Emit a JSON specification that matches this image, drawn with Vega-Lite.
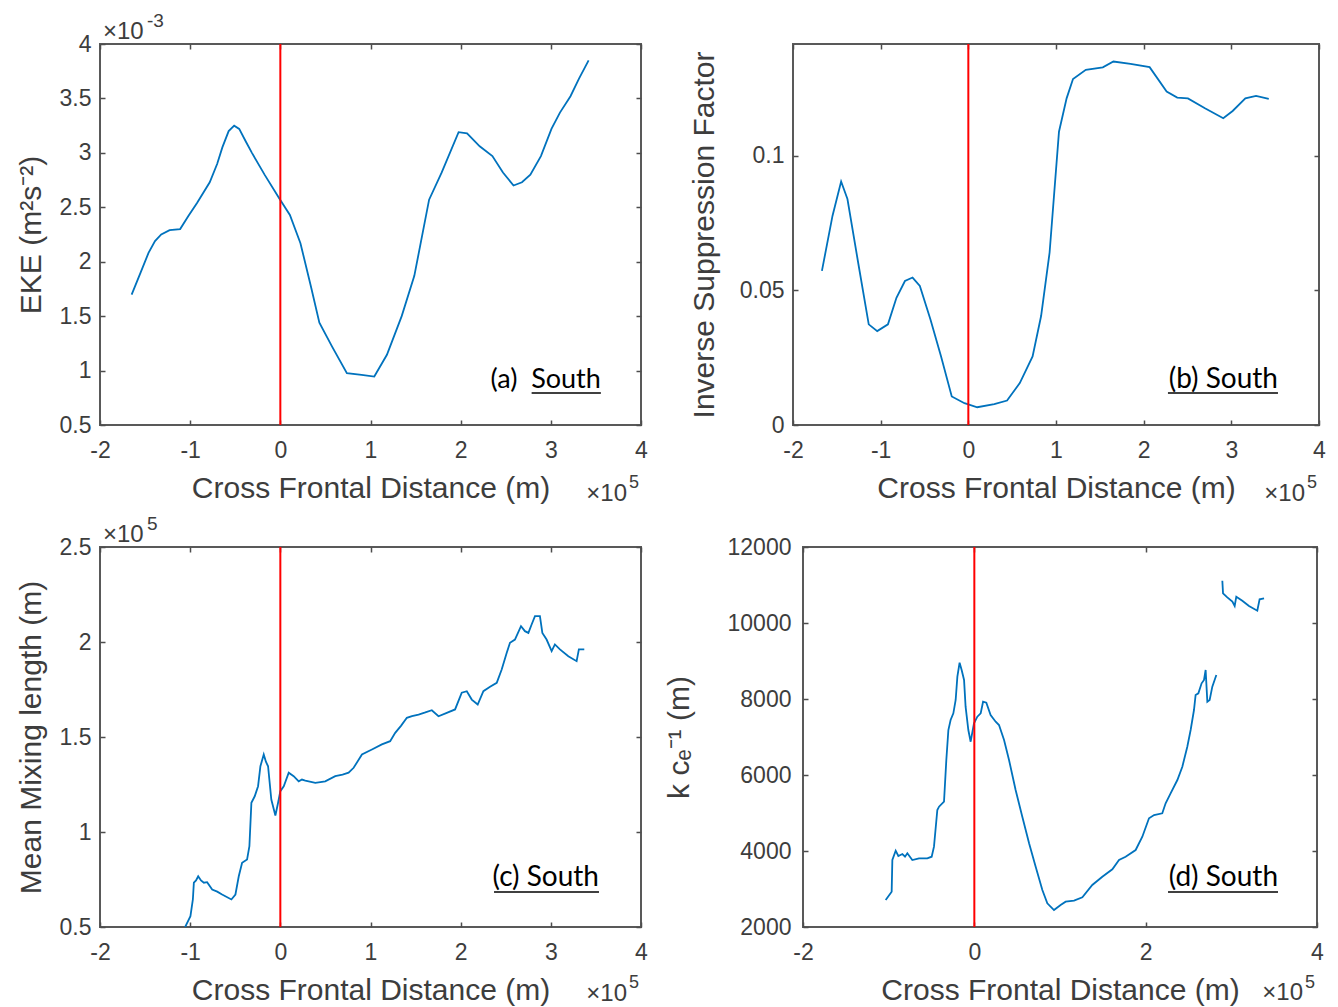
{
  "$schema": "https://vega.github.io/schema/vega-lite/v6.json",
  "background": "white",
  "padding": {"left": 15, "top": 11, "right": 5, "bottom": 0},
  "spacing": 7,
  "config": {
    "font": "Liberation Sans",
    "view": {"stroke": "#595959", "strokeWidth": 2},
    "axis": {
      "domain": false, "grid": false, "ticks": true, "tickSize": -5, "tickColor": "#4d4d4d", "tickWidth": 1.5,
      "labelFont": "Liberation Sans", "labelFontSize": 23, "labelColor": "#3d3d3d",
      "labelFlush": false, "labelOverlap": false, "labelExpr": "'' + datum.value",
      "titleFont": "Liberation Sans", "titleFontSize": 30, "titleFontWeight": "normal", "titleColor": "#3d3d3d"
    },
    "axisBottom": {"titlePadding": 11, "labelPadding": 19},
    "axisLeft": {"titlePadding": 13, "labelPadding": 14},
    "text": {"font": "Liberation Sans", "color": "#3d3d3d"}
  },
  "datasets": {
    "eke": [
      {"x": -1.649, "y": 1.697}, {"x": -1.55, "y": 1.9}, {"x": -1.462, "y": 2.081}, {"x": -1.39, "y": 2.19},
      {"x": -1.321, "y": 2.25}, {"x": -1.228, "y": 2.29}, {"x": -1.111, "y": 2.3}, {"x": -1.02, "y": 2.42},
      {"x": -0.924, "y": 2.54}, {"x": -0.783, "y": 2.73}, {"x": -0.7, "y": 2.9}, {"x": -0.643, "y": 3.05},
      {"x": -0.573, "y": 3.2}, {"x": -0.512, "y": 3.25}, {"x": -0.456, "y": 3.22}, {"x": -0.38, "y": 3.1},
      {"x": -0.315, "y": 3.0}, {"x": -0.175, "y": 2.8}, {"x": -0.011, "y": 2.58}, {"x": 0.106, "y": 2.43},
      {"x": 0.223, "y": 2.17}, {"x": 0.34, "y": 1.77}, {"x": 0.433, "y": 1.44}, {"x": 0.574, "y": 1.22},
      {"x": 0.738, "y": 0.976}, {"x": 0.901, "y": 0.96}, {"x": 1.042, "y": 0.945}, {"x": 1.182, "y": 1.145},
      {"x": 1.346, "y": 1.5}, {"x": 1.486, "y": 1.87}, {"x": 1.65, "y": 2.57}, {"x": 1.79, "y": 2.82},
      {"x": 1.977, "y": 3.19}, {"x": 2.071, "y": 3.18}, {"x": 2.211, "y": 3.06}, {"x": 2.352, "y": 2.97},
      {"x": 2.469, "y": 2.82}, {"x": 2.586, "y": 2.7}, {"x": 2.68, "y": 2.73}, {"x": 2.773, "y": 2.8},
      {"x": 2.89, "y": 2.97}, {"x": 3.007, "y": 3.22}, {"x": 3.101, "y": 3.37}, {"x": 3.218, "y": 3.52},
      {"x": 3.311, "y": 3.68}, {"x": 3.419, "y": 3.85}
    ],
    "isf": [
      {"x": -1.67, "y": 0.0573}, {"x": -1.549, "y": 0.0778}, {"x": -1.451, "y": 0.0905}, {"x": -1.379, "y": 0.084},
      {"x": -1.257, "y": 0.0604}, {"x": -1.136, "y": 0.0374}, {"x": -1.039, "y": 0.0349}, {"x": -0.917, "y": 0.0374},
      {"x": -0.82, "y": 0.0473}, {"x": -0.723, "y": 0.0535}, {"x": -0.636, "y": 0.0548}, {"x": -0.553, "y": 0.0517},
      {"x": -0.432, "y": 0.0392}, {"x": -0.311, "y": 0.0255}, {"x": -0.189, "y": 0.0106}, {"x": -0.044, "y": 0.0081},
      {"x": 0.102, "y": 0.0066}, {"x": 0.296, "y": 0.0078}, {"x": 0.442, "y": 0.0091}, {"x": 0.587, "y": 0.0156},
      {"x": 0.733, "y": 0.0255}, {"x": 0.83, "y": 0.0405}, {"x": 0.927, "y": 0.0641}, {"x": 1.034, "y": 0.109},
      {"x": 1.121, "y": 0.1214}, {"x": 1.194, "y": 0.1286}, {"x": 1.34, "y": 0.132}, {"x": 1.534, "y": 0.1329},
      {"x": 1.655, "y": 0.1351}, {"x": 1.85, "y": 0.1342}, {"x": 2.068, "y": 0.133}, {"x": 2.262, "y": 0.1239},
      {"x": 2.383, "y": 0.1217}, {"x": 2.505, "y": 0.1214}, {"x": 2.699, "y": 0.1177}, {"x": 2.908, "y": 0.114},
      {"x": 3.015, "y": 0.1167}, {"x": 3.16, "y": 0.1214}, {"x": 3.282, "y": 0.1223}, {"x": 3.427, "y": 0.1212}
    ],
    "mix": [
      {"x": -1.07, "y": 0.46}, {"x": -1.052, "y": 0.504}, {"x": -0.997, "y": 0.557}, {"x": -0.97, "y": 0.645},
      {"x": -0.959, "y": 0.733}, {"x": -0.935, "y": 0.745}, {"x": -0.911, "y": 0.767}, {"x": -0.88, "y": 0.745},
      {"x": -0.848, "y": 0.733}, {"x": -0.812, "y": 0.736}, {"x": -0.756, "y": 0.697}, {"x": -0.7, "y": 0.686},
      {"x": -0.646, "y": 0.671}, {"x": -0.543, "y": 0.645}, {"x": -0.498, "y": 0.671}, {"x": -0.461, "y": 0.767},
      {"x": -0.424, "y": 0.838}, {"x": -0.369, "y": 0.855}, {"x": -0.343, "y": 0.925}, {"x": -0.321, "y": 1.154},
      {"x": -0.284, "y": 1.188}, {"x": -0.247, "y": 1.241}, {"x": -0.221, "y": 1.346}, {"x": -0.184, "y": 1.408},
      {"x": -0.16, "y": 1.37}, {"x": -0.136, "y": 1.346}, {"x": -0.1, "y": 1.171}, {"x": -0.055, "y": 1.087},
      {"x": -0.025, "y": 1.154}, {"x": 0.0, "y": 1.215}, {"x": 0.038, "y": 1.241}, {"x": 0.093, "y": 1.312},
      {"x": 0.148, "y": 1.294}, {"x": 0.204, "y": 1.267}, {"x": 0.24, "y": 1.276}, {"x": 0.277, "y": 1.271},
      {"x": 0.388, "y": 1.259}, {"x": 0.498, "y": 1.267}, {"x": 0.609, "y": 1.294}, {"x": 0.69, "y": 1.302},
      {"x": 0.757, "y": 1.312}, {"x": 0.813, "y": 1.338}, {"x": 0.905, "y": 1.408}, {"x": 1.016, "y": 1.434},
      {"x": 1.126, "y": 1.461}, {"x": 1.218, "y": 1.478}, {"x": 1.274, "y": 1.522}, {"x": 1.34, "y": 1.56},
      {"x": 1.403, "y": 1.601}, {"x": 1.46, "y": 1.61}, {"x": 1.533, "y": 1.618}, {"x": 1.6, "y": 1.628},
      {"x": 1.68, "y": 1.641}, {"x": 1.754, "y": 1.609}, {"x": 1.846, "y": 1.627}, {"x": 1.938, "y": 1.645},
      {"x": 2.012, "y": 1.733}, {"x": 2.068, "y": 1.741}, {"x": 2.123, "y": 1.697}, {"x": 2.189, "y": 1.671},
      {"x": 2.252, "y": 1.741}, {"x": 2.326, "y": 1.764}, {"x": 2.4, "y": 1.785}, {"x": 2.455, "y": 1.855},
      {"x": 2.511, "y": 1.943}, {"x": 2.547, "y": 1.996}, {"x": 2.602, "y": 2.013}, {"x": 2.669, "y": 2.083},
      {"x": 2.713, "y": 2.057}, {"x": 2.751, "y": 2.048}, {"x": 2.787, "y": 2.092}, {"x": 2.824, "y": 2.136},
      {"x": 2.879, "y": 2.136}, {"x": 2.906, "y": 2.048}, {"x": 2.953, "y": 2.013}, {"x": 3.009, "y": 1.952},
      {"x": 3.045, "y": 1.987}, {"x": 3.101, "y": 1.961}, {"x": 3.194, "y": 1.925}, {"x": 3.286, "y": 1.899},
      {"x": 3.311, "y": 1.961}, {"x": 3.371, "y": 1.961}
    ],
    "kce": [
      {"seg": 1, "x": -1.035, "y": 2711}, {"seg": 1, "x": -0.965, "y": 2929}, {"seg": 1, "x": -0.957, "y": 3763},
      {"seg": 1, "x": -0.918, "y": 4008}, {"seg": 1, "x": -0.887, "y": 3868}, {"seg": 1, "x": -0.84, "y": 3921},
      {"seg": 1, "x": -0.809, "y": 3850}, {"seg": 1, "x": -0.782, "y": 3939}, {"seg": 1, "x": -0.724, "y": 3763},
      {"seg": 1, "x": -0.646, "y": 3808}, {"seg": 1, "x": -0.549, "y": 3808}, {"seg": 1, "x": -0.498, "y": 3850},
      {"seg": 1, "x": -0.471, "y": 4113}, {"seg": 1, "x": -0.432, "y": 5079}, {"seg": 1, "x": -0.412, "y": 5166},
      {"seg": 1, "x": -0.354, "y": 5297}, {"seg": 1, "x": -0.327, "y": 6395}, {"seg": 1, "x": -0.303, "y": 7184},
      {"seg": 1, "x": -0.277, "y": 7447}, {"seg": 1, "x": -0.245, "y": 7623}, {"seg": 1, "x": -0.218, "y": 7974},
      {"seg": 1, "x": -0.198, "y": 8587}, {"seg": 1, "x": -0.172, "y": 8955}, {"seg": 1, "x": -0.148, "y": 8763},
      {"seg": 1, "x": -0.12, "y": 8500}, {"seg": 1, "x": -0.102, "y": 7797}, {"seg": 1, "x": -0.07, "y": 7184},
      {"seg": 1, "x": -0.043, "y": 6876}, {"seg": 1, "x": -0.004, "y": 7360}, {"seg": 1, "x": 0.035, "y": 7534},
      {"seg": 1, "x": 0.074, "y": 7623}, {"seg": 1, "x": 0.102, "y": 7929}, {"seg": 1, "x": 0.14, "y": 7903},
      {"seg": 1, "x": 0.19, "y": 7579}, {"seg": 1, "x": 0.249, "y": 7403}, {"seg": 1, "x": 0.288, "y": 7316},
      {"seg": 1, "x": 0.347, "y": 6921}, {"seg": 1, "x": 0.405, "y": 6395}, {"seg": 1, "x": 0.482, "y": 5605},
      {"seg": 1, "x": 0.56, "y": 4903}, {"seg": 1, "x": 0.639, "y": 4203}, {"seg": 1, "x": 0.716, "y": 3587},
      {"seg": 1, "x": 0.794, "y": 2974}, {"seg": 1, "x": 0.852, "y": 2624}, {"seg": 1, "x": 0.93, "y": 2447},
      {"seg": 1, "x": 1.007, "y": 2579}, {"seg": 1, "x": 1.066, "y": 2666}, {"seg": 1, "x": 1.164, "y": 2692},
      {"seg": 1, "x": 1.261, "y": 2781}, {"seg": 1, "x": 1.377, "y": 3105}, {"seg": 1, "x": 1.494, "y": 3324},
      {"seg": 1, "x": 1.611, "y": 3518}, {"seg": 1, "x": 1.689, "y": 3763}, {"seg": 1, "x": 1.766, "y": 3850},
      {"seg": 1, "x": 1.883, "y": 4026}, {"seg": 1, "x": 1.961, "y": 4376}, {"seg": 1, "x": 2.039, "y": 4861},
      {"seg": 1, "x": 2.098, "y": 4947}, {"seg": 1, "x": 2.194, "y": 4992}, {"seg": 1, "x": 2.233, "y": 5255},
      {"seg": 1, "x": 2.291, "y": 5518}, {"seg": 1, "x": 2.37, "y": 5868}, {"seg": 1, "x": 2.428, "y": 6218},
      {"seg": 1, "x": 2.486, "y": 6745}, {"seg": 1, "x": 2.525, "y": 7184}, {"seg": 1, "x": 2.564, "y": 7710},
      {"seg": 1, "x": 2.583, "y": 8105}, {"seg": 1, "x": 2.615, "y": 8150}, {"seg": 1, "x": 2.653, "y": 8413},
      {"seg": 1, "x": 2.681, "y": 8500}, {"seg": 1, "x": 2.7, "y": 8763}, {"seg": 1, "x": 2.72, "y": 7929},
      {"seg": 1, "x": 2.747, "y": 7974}, {"seg": 1, "x": 2.778, "y": 8324}, {"seg": 1, "x": 2.825, "y": 8632},
      {"seg": 2, "x": 2.895, "y": 11113}, {"seg": 2, "x": 2.903, "y": 10781}, {"seg": 2, "x": 2.953, "y": 10676},
      {"seg": 2, "x": 3.012, "y": 10561}, {"seg": 2, "x": 3.039, "y": 10447}, {"seg": 2, "x": 3.058, "y": 10692},
      {"seg": 2, "x": 3.128, "y": 10587}, {"seg": 2, "x": 3.206, "y": 10447}, {"seg": 2, "x": 3.303, "y": 10324},
      {"seg": 2, "x": 3.33, "y": 10624}, {"seg": 2, "x": 3.382, "y": 10650}
    ]
  },
  "vconcat": [
    {
      "hconcat": [
        {
          "width": 541, "height": 381,
          "layer": [
            {
              "data": {"name": "eke"},
              "mark": {"type": "line", "color": "#0072BD", "strokeWidth": 1.8, "clip": true},
              "encoding": {
                "x": {"field": "x", "type": "quantitative", "scale": {"domain": [-2, 4], "nice": false, "zero": false},
                      "axis": {"orient": "bottom", "values": [-2, -1, 0, 1, 2, 3, 4], "title": "Cross Frontal Distance (m)"}},
                "y": {"field": "y", "type": "quantitative", "scale": {"domain": [0.5, 4], "nice": false, "zero": false},
                      "axis": {"orient": "left", "values": [0.5, 1, 1.5, 2, 2.5, 3, 3.5, 4], "title": "EKE (m²s⁻²)"}}
              }
            },
            {
              "data": {"values": [{}]},
              "mark": {"type": "rule", "color": "#ff0000", "strokeWidth": 2},
              "encoding": {
                "x": {"datum": 0, "type": "quantitative", "axis": {"orient": "top", "values": [-2, -1, 0, 1, 2, 3, 4], "labels": false, "title": null}},
                "y": {"datum": 0.5, "type": "quantitative", "axis": {"orient": "right", "values": [0.5, 1, 1.5, 2, 2.5, 3, 3.5, 4], "labels": false, "title": null}},
                "y2": {"datum": 4}
              }
            },
            {
              "data": {"values": [{}]},
              "mark": {"type": "text", "align": "right", "baseline": "middle", "font": "Lato", "fontSize": 27, "color": "#000000"},
              "encoding": {
                "x": {"datum": 3.555, "type": "quantitative", "axis": null},
                "y": {"datum": 0.913, "type": "quantitative", "axis": null},
                "text": {"value": "(a)\u00a0\u00a0South"}
              }
            },
            {
              "data": {"values": [{}]},
              "mark": {"type": "rule", "color": "#000000", "strokeWidth": 1.5},
              "encoding": {
                "x": {"datum": 2.787, "type": "quantitative", "axis": null},
                "x2": {"datum": 3.555},
                "y": {"datum": 0.794, "type": "quantitative", "axis": null}
              }
            },
            {
              "data": {"values": [{}]},
              "mark": {"type": "text", "align": "left", "baseline": "alphabetic", "dx": 3, "dy": -5, "fontSize": 24},
              "encoding": {
                "x": {"datum": -2, "type": "quantitative", "axis": null},
                "y": {"datum": 4, "type": "quantitative", "axis": null},
                "text": {"value": "×10"}
              }
            },
            {
              "data": {"values": [{}]},
              "mark": {"type": "text", "align": "left", "baseline": "alphabetic", "dx": 47, "dy": -17, "fontSize": 19},
              "encoding": {
                "x": {"datum": -2, "type": "quantitative", "axis": null},
                "y": {"datum": 4, "type": "quantitative", "axis": null},
                "text": {"value": "-3"}
              }
            },
            {
              "data": {"values": [{}]},
              "mark": {"type": "text", "align": "right", "baseline": "alphabetic", "dx": -14, "dy": 76, "fontSize": 24},
              "encoding": {
                "x": {"datum": 4, "type": "quantitative", "axis": null},
                "y": {"datum": 0.5, "type": "quantitative", "axis": null},
                "text": {"value": "×10"}
              }
            },
            {
              "data": {"values": [{}]},
              "mark": {"type": "text", "align": "right", "baseline": "alphabetic", "dx": -2, "dy": 63, "fontSize": 18},
              "encoding": {
                "x": {"datum": 4, "type": "quantitative", "axis": null},
                "y": {"datum": 0.5, "type": "quantitative", "axis": null},
                "text": {"value": "5"}
              }
            }
          ],
          "resolve": {"axis": {"x": "independent", "y": "independent"}}
        },
        {
          "width": 526, "height": 381,
          "layer": [
            {
              "data": {"name": "isf"},
              "mark": {"type": "line", "color": "#0072BD", "strokeWidth": 1.8, "clip": true},
              "encoding": {
                "x": {"field": "x", "type": "quantitative", "scale": {"domain": [-2, 4], "nice": false, "zero": false},
                      "axis": {"orient": "bottom", "values": [-2, -1, 0, 1, 2, 3, 4], "title": "Cross Frontal Distance (m)"}},
                "y": {"field": "y", "type": "quantitative", "scale": {"domain": [0, 0.1416], "nice": false, "zero": false},
                      "axis": {"orient": "left", "values": [0, 0.05, 0.1], "title": "Inverse Suppression Factor", "titlePadding": 20}}
              }
            },
            {
              "data": {"values": [{}]},
              "mark": {"type": "rule", "color": "#ff0000", "strokeWidth": 2},
              "encoding": {
                "x": {"datum": 0, "type": "quantitative", "axis": {"orient": "top", "values": [-2, -1, 0, 1, 2, 3, 4], "labels": false, "title": null}},
                "y": {"datum": 0, "type": "quantitative", "axis": {"orient": "right", "values": [0, 0.05, 0.1], "labels": false, "title": null}},
                "y2": {"datum": 0.1416}
              }
            },
            {
              "data": {"values": [{}]},
              "mark": {"type": "text", "align": "right", "baseline": "middle", "font": "Lato", "fontSize": 28, "color": "#000000"},
              "encoding": {
                "x": {"datum": 3.532, "type": "quantitative", "axis": null},
                "y": {"datum": 0.0167, "type": "quantitative", "axis": null},
                "text": {"value": "(b) South"}
              }
            },
            {
              "data": {"values": [{}]},
              "mark": {"type": "rule", "color": "#000000", "strokeWidth": 1.5},
              "encoding": {
                "x": {"datum": 2.277, "type": "quantitative", "axis": null},
                "x2": {"datum": 3.532},
                "y": {"datum": 0.0119, "type": "quantitative", "axis": null}
              }
            },
            {
              "data": {"values": [{}]},
              "mark": {"type": "text", "align": "right", "baseline": "alphabetic", "dx": -14, "dy": 76, "fontSize": 24},
              "encoding": {
                "x": {"datum": 4, "type": "quantitative", "axis": null},
                "y": {"datum": 0, "type": "quantitative", "axis": null},
                "text": {"value": "×10"}
              }
            },
            {
              "data": {"values": [{}]},
              "mark": {"type": "text", "align": "right", "baseline": "alphabetic", "dx": -2, "dy": 63, "fontSize": 18},
              "encoding": {
                "x": {"datum": 4, "type": "quantitative", "axis": null},
                "y": {"datum": 0, "type": "quantitative", "axis": null},
                "text": {"value": "5"}
              }
            }
          ],
          "resolve": {"axis": {"x": "independent", "y": "independent"}}
        }
      ],
      "bounds": "flush",
      "spacing": 152
    },
    {
      "hconcat": [
        {
          "width": 541, "height": 380,
          "layer": [
            {
              "data": {"name": "mix"},
              "mark": {"type": "line", "color": "#0072BD", "strokeWidth": 1.8, "clip": true},
              "encoding": {
                "x": {"field": "x", "type": "quantitative", "scale": {"domain": [-2, 4], "nice": false, "zero": false},
                      "axis": {"orient": "bottom", "values": [-2, -1, 0, 1, 2, 3, 4], "title": "Cross Frontal Distance (m)"}},
                "y": {"field": "y", "type": "quantitative", "scale": {"domain": [0.5, 2.5], "nice": false, "zero": false},
                      "axis": {"orient": "left", "values": [0.5, 1, 1.5, 2, 2.5], "title": "Mean Mixing length (m)"}}
              }
            },
            {
              "data": {"values": [{}]},
              "mark": {"type": "rule", "color": "#ff0000", "strokeWidth": 2},
              "encoding": {
                "x": {"datum": 0, "type": "quantitative", "axis": {"orient": "top", "values": [-2, -1, 0, 1, 2, 3, 4], "labels": false, "title": null}},
                "y": {"datum": 0.5, "type": "quantitative", "axis": {"orient": "right", "values": [0.5, 1, 1.5, 2, 2.5], "labels": false, "title": null}},
                "y2": {"datum": 2.5}
              }
            },
            {
              "data": {"values": [{}]},
              "mark": {"type": "text", "align": "right", "baseline": "middle", "font": "Lato", "fontSize": 28, "color": "#000000"},
              "encoding": {
                "x": {"datum": 3.534, "type": "quantitative", "axis": null},
                "y": {"datum": 0.758, "type": "quantitative", "axis": null},
                "text": {"value": "(c) South"}
              }
            },
            {
              "data": {"values": [{}]},
              "mark": {"type": "rule", "color": "#000000", "strokeWidth": 1.5},
              "encoding": {
                "x": {"datum": 2.37, "type": "quantitative", "axis": null},
                "x2": {"datum": 3.534},
                "y": {"datum": 0.684, "type": "quantitative", "axis": null}
              }
            },
            {
              "data": {"values": [{}]},
              "mark": {"type": "text", "align": "left", "baseline": "alphabetic", "dx": 3, "dy": -5, "fontSize": 24},
              "encoding": {
                "x": {"datum": -2, "type": "quantitative", "axis": null},
                "y": {"datum": 2.5, "type": "quantitative", "axis": null},
                "text": {"value": "×10"}
              }
            },
            {
              "data": {"values": [{}]},
              "mark": {"type": "text", "align": "left", "baseline": "alphabetic", "dx": 47, "dy": -17, "fontSize": 19},
              "encoding": {
                "x": {"datum": -2, "type": "quantitative", "axis": null},
                "y": {"datum": 2.5, "type": "quantitative", "axis": null},
                "text": {"value": "5"}
              }
            },
            {
              "data": {"values": [{}]},
              "mark": {"type": "text", "align": "right", "baseline": "alphabetic", "dx": -14, "dy": 74, "fontSize": 24},
              "encoding": {
                "x": {"datum": 4, "type": "quantitative", "axis": null},
                "y": {"datum": 0.5, "type": "quantitative", "axis": null},
                "text": {"value": "×10"}
              }
            },
            {
              "data": {"values": [{}]},
              "mark": {"type": "text", "align": "right", "baseline": "alphabetic", "dx": -2, "dy": 61, "fontSize": 18},
              "encoding": {
                "x": {"datum": 4, "type": "quantitative", "axis": null},
                "y": {"datum": 0.5, "type": "quantitative", "axis": null},
                "text": {"value": "5"}
              }
            }
          ],
          "resolve": {"axis": {"x": "independent", "y": "independent"}}
        },
        {
          "width": 514, "height": 380,
          "layer": [
            {
              "data": {"name": "kce"},
              "mark": {"type": "line", "color": "#0072BD", "strokeWidth": 1.8, "clip": true},
              "encoding": {
                "x": {"field": "x", "type": "quantitative", "scale": {"domain": [-2, 4], "nice": false, "zero": false},
                      "axis": {"orient": "bottom", "values": [-2, 0, 2, 4], "title": "Cross Frontal Distance (m)"}},
                "y": {"field": "y", "type": "quantitative", "scale": {"domain": [2000, 12000], "nice": false, "zero": false},
                      "axis": {"orient": "left", "values": [2000, 4000, 6000, 8000, 10000, 12000], "title": "k cₑ⁻¹ (m)", "titlePadding": 33, "labelPadding": 17}},
                "detail": {"field": "seg", "type": "nominal"}
              }
            },
            {
              "data": {"values": [{}]},
              "mark": {"type": "rule", "color": "#ff0000", "strokeWidth": 2},
              "encoding": {
                "x": {"datum": 0, "type": "quantitative", "axis": {"orient": "top", "values": [-2, 0, 2, 4], "labels": false, "title": null}},
                "y": {"datum": 2000, "type": "quantitative", "axis": {"orient": "right", "values": [2000, 4000, 6000, 8000, 10000, 12000], "labels": false, "title": null}},
                "y2": {"datum": 12000}
              }
            },
            {
              "data": {"values": [{}]},
              "mark": {"type": "text", "align": "right", "baseline": "middle", "font": "Lato", "fontSize": 28, "color": "#000000"},
              "encoding": {
                "x": {"datum": 3.545, "type": "quantitative", "axis": null},
                "y": {"datum": 3289, "type": "quantitative", "axis": null},
                "text": {"value": "(d) South"}
              }
            },
            {
              "data": {"values": [{}]},
              "mark": {"type": "rule", "color": "#000000", "strokeWidth": 1.5},
              "encoding": {
                "x": {"datum": 2.261, "type": "quantitative", "axis": null},
                "x2": {"datum": 3.545},
                "y": {"datum": 2921, "type": "quantitative", "axis": null}
              }
            },
            {
              "data": {"values": [{}]},
              "mark": {"type": "text", "align": "right", "baseline": "alphabetic", "dx": -14, "dy": 73, "fontSize": 24},
              "encoding": {
                "x": {"datum": 4, "type": "quantitative", "axis": null},
                "y": {"datum": 2000, "type": "quantitative", "axis": null},
                "text": {"value": "×10"}
              }
            },
            {
              "data": {"values": [{}]},
              "mark": {"type": "text", "align": "right", "baseline": "alphabetic", "dx": -2, "dy": 61, "fontSize": 18},
              "encoding": {
                "x": {"datum": 4, "type": "quantitative", "axis": null},
                "y": {"datum": 2000, "type": "quantitative", "axis": null},
                "text": {"value": "5"}
              }
            }
          ],
          "resolve": {"axis": {"x": "independent", "y": "independent"}}
        }
      ],
      "bounds": "flush",
      "spacing": 162
    }
  ]
}
